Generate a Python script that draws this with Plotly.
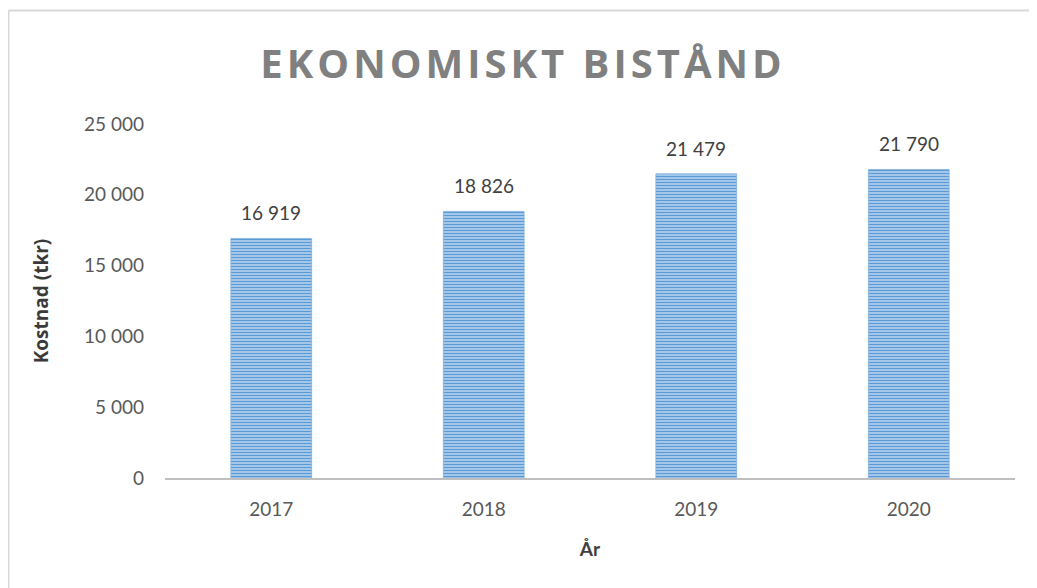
import plotly.graph_objects as go

years = ["2017", "2018", "2019", "2020"]
kostnad = [16919, 18826, 21479, 21790]
y_ticks = [0, 5000, 10000, 15000, 20000, 25000]
y_ticklabels = ["0", "5 000", "10 000", "15 000", "20 000", "25 000"]
value_labels = ["16 919", "18 826", "21 479", "21 790"]
title_text = "EKONOMISKT BISTÅND"

# page body has an 8px margin, so figure coords = screenshot coords - 8
OFF = 8
W, H = 1037 - OFF, 588 - OFF
L = 165 - OFF
T = 124 - OFF
R = W - (1015 - OFF)
B = H - (478 - OFF)
pw, ph = W - L - R, H - T - B

def px_x(p):
    return (p - OFF - L) / pw

def px_y(p):
    return (H - B - (p - OFF)) / ph

spaced_title = "\u200a".join(title_text)
pos = list(range(len(years)))

fig = go.Figure()
fig.add_trace(go.Bar(
    x=pos, y=kostnad, width=0.38,
    marker=dict(
        color="#5B9BD5",
        line=dict(color="#7EAEDD", width=0.8),
        pattern=dict(shape="-", size=3, solidity=0.45,
                     fgcolor="#5B9BD5", bgcolor="#B4D0EE", fillmode="replace"),
    ),
    hoverinfo="skip",
))

for x, y, t in zip(pos, kostnad, value_labels):
    fig.add_annotation(x=x, y=y, xref="x", yref="y", text=t, showarrow=False, yanchor="bottom",
                       yshift=12, font=dict(family="Lato", size=19, color="#404040"))

# chart-area border (top and left edges visible in the reference)
fig.add_shape(type="line", xref="paper", yref="paper",
              x0=px_x(8.5), x1=px_x(1040), y0=px_y(10.5), y1=px_y(10.5),
              line=dict(color="#D9D9D9", width=2), layer="below")
fig.add_shape(type="line", xref="paper", yref="paper",
              x0=px_x(8.5), x1=px_x(8.5), y0=px_y(10.5), y1=px_y(600),
              line=dict(color="#D9D9D9", width=2), layer="below")

fig.update_layout(
    width=W, height=H,
    margin=dict(l=L, r=R, t=T, b=B, pad=0),
    paper_bgcolor="white", plot_bgcolor="white",
    showlegend=False,
    title=dict(text="<b>" + spaced_title + "</b>", x=(521 - OFF) / W, xanchor="center", xref="container",
               y=1 - (64 - OFF) / H, yanchor="middle",
               font=dict(family="Open Sans", size=40, color="#808080")),
    font=dict(family="Lato", size=19, color="#595959"),
    xaxis=dict(
        type="linear", range=[-0.5, len(years) - 0.5],
        tickmode="array", tickvals=pos, ticktext=years,
        showline=True, linecolor="#BFBFBF", linewidth=2, showgrid=False, zeroline=False,
        ticks="", tickfont=dict(family="Lato", size=19, color="#595959"),
        ticklabelstandoff=13,
        title=dict(text="<b>År</b>", font=dict(family="Lato", size=19, color="#404040"), standoff=24),
    ),
    yaxis=dict(
        range=[0, 25000], tickmode="array", tickvals=y_ticks, ticktext=y_ticklabels,
        showline=False, showgrid=False, zeroline=False, ticks="",
        tickfont=dict(family="Lato", size=19, color="#595959"),
        ticklabelstandoff=20,
        title=dict(text="<b>Kostnad (tkr)</b>", font=dict(family="Open Sans", size=19, color="#3A3A3A"), standoff=30),
    ),
)

fig.write_html("out.html")
